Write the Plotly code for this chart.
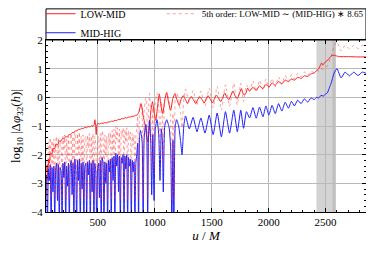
import math
import plotly.graph_objects as go

# ---------------- data ----------------
low_mid_u = [50, 56, 62, 68, 75, 84, 96, 108, 120, 134, 148, 162, 176, 190, 204, 218, 232, 246, 260, 274,
             288, 302, 316, 330, 344, 358, 372, 386, 400, 414, 428, 442, 456, 468, 474, 480, 486, 492, 500,
             515, 530, 545, 560, 575, 590, 605, 620, 635, 650, 665, 680, 695, 710, 725, 740, 755, 770, 785,
             800, 815, 830, 845, 860, 870, 880, 890, 900,
             910, 920, 930, 940, 950, 965, 980, 995, 1010, 1025, 1040, 1055, 1070, 1088, 1105, 1122, 1140, 1158,
             1177, 1196, 1215, 1233, 1250, 1270, 1288, 1305, 1323, 1342, 1361, 1378, 1396, 1415, 1434, 1451, 1468,
             1488, 1507, 1524, 1541, 1560, 1580, 1597, 1614, 1633, 1652, 1670, 1687, 1706, 1725, 1742, 1760, 1780,
             1798, 1815, 1833, 1862, 1891, 1920, 1950, 1976, 2002, 2030, 2058, 2087, 2116, 2145, 2174, 2200, 2226,
             2255, 2285, 2314, 2343, 2372, 2401, 2420, 2440, 2455, 2465, 2475, 2490, 2505, 2520, 2540, 2555, 2575,
             2590, 2620, 2700, 2780, 2855]
low_mid_v = [-2.6, -2.35, -2.9, -2.15, -2.3, -1.95, -1.98, -1.78, -1.8, -1.63, -1.65, -1.52, -1.53, -1.43, -1.45,
             -1.37, -1.38, -1.3, -1.3, -1.23, -1.23, -1.17, -1.17, -1.12, -1.12, -1.08, -1.09, -1.05, -1.06, -1.02,
             -1.03, -1.0, -1.0, -0.96, -0.78, -0.98, -1.3, -0.96, -0.91,
             -0.93, -0.9, -0.91, -0.88, -0.89, -0.86, -0.86, -0.83, -0.84, -0.8, -0.81, -0.77, -0.78, -0.74,
             -0.75, -0.71, -0.72, -0.69, -0.69, -0.66, -0.66, -0.63, -0.62, -0.52, -0.36, -0.22, -0.4, -0.7,
             -0.85, -1.1, -1.4, -1.55, -1.2, -0.5, -0.15, -0.55, -0.8, -0.3, 0.12, -0.3, -0.57, -0.1, 0.17, -0.2,
             -0.45, -0.05, 0.13, -0.1, -0.28, -0.05, 0.06, -0.08, -0.22, -0.05, 0.02, -0.1, -0.22, -0.07, 0.02,
             -0.08, -0.2, -0.05, 0.06, -0.07, -0.2, -0.05, 0.08, -0.04, -0.15, 0.0, 0.15, 0.0, -0.08, 0.08, 0.22,
             0.05, -0.04, 0.12, 0.3, 0.1, 0.12, 0.32, 0.22, 0.35, 0.24, 0.4, 0.3, 0.45, 0.36, 0.5, 0.42, 0.55, 0.47,
             0.6, 0.55, 0.64, 0.6, 0.7, 0.66, 0.75, 0.73, 0.82, 0.85, 0.93, 1.0, 1.12, 1.2, 1.12, 1.2, 1.26, 1.3,
             1.4, 1.46, 1.47, 1.45, 1.42, 1.42, 1.41, 1.41]

mid_hig_u = [50, 58, 66, 74, 82, 90, 98, 106, 114, 122, 130, 138, 146, 154, 162, 170, 178, 186, 194, 202,
             210, 218, 226, 234, 242, 250, 258, 266, 274, 282, 290, 298, 306, 314, 322, 330, 338, 346, 354, 362,
             370, 378, 386, 394, 402, 410, 418, 426, 434, 442, 450, 458, 466, 474, 482, 490, 498,
             506, 514, 522, 530, 538, 546, 554, 562, 570, 578, 586, 594, 602, 610, 618, 626, 634, 642, 650, 658,
             666, 674, 682, 690, 698, 706, 714, 722, 730, 738, 746, 754, 762, 770, 778, 786, 794, 802, 810, 818,
             826, 834, 842, 850, 858, 866, 874, 882, 890, 898, 906, 914, 922, 930, 938, 946, 955, 965, 973, 983,
             994, 1005, 1020, 1035, 1046, 1058, 1067, 1075, 1088, 1105, 1120, 1128, 1140, 1150, 1160, 1168, 1180,
             1192, 1210, 1226, 1240, 1255, 1270, 1303, 1337, 1371, 1405, 1441, 1478, 1513, 1548, 1585, 1621,
             1657, 1694, 1725, 1755, 1780, 1805, 1833, 1862, 1891, 1920, 1950, 1976, 2002, 2030, 2058, 2087,
             2116, 2145, 2174, 2200, 2226, 2255, 2285, 2314, 2343, 2372, 2401, 2420, 2440, 2460, 2480, 2500,
             2515, 2530, 2545, 2560, 2575, 2600, 2636, 2672, 2710, 2748, 2785, 2822, 2855]
mid_hig_v = [-2.7, -4.5, -2.5, -2.9, -2.35, -4.5, -2.45, -3.3, -2.4, -4.5, -2.5, -2.3, -3.6, -2.35, -4.5,
             -2.45, -2.6, -4.5, -2.3, -2.8, -2.25, -4.5, -2.4, -3.1, -2.3, -4.5, -2.4, -2.2, -3.4, -2.3, -4.5,
             -2.15, -2.5, -4.5, -2.2, -2.9, -2.15, -4.5, -2.3, -3.2, -2.25, -4.5, -2.4, -2.3, -4.5, -2.25, -2.7,
             -2.2, -4.5, -2.3, -3.3, -2.2, -4.5, -2.3, -2.6, -4.5, -2.5,
             -2.3, -3.5, -2.2, -4.5, -2.1, -2.3, -4.5, -2.25, -3.0, -2.3, -4.5, -2.2, -2.6, -2.15, -4.5, -2.1,
             -2.9, -2.05, -4.5, -1.95, -2.4, -2.0, -3.3, -2.05, -4.5, -2.1, -2.3, -2.0, -4.5, -2.05, -2.5, -2.0,
             -4.5, -2.1, -2.4, -2.15, -4.5, -2.2, -2.6, -2.25, -4.5, -2.3, -2.0, -1.6, -4.5, -1.4, -1.15, -1.3,
             -1.6, -4.5, -1.5, -1.1, -0.95, -1.3, -4.5, -1.2, -0.8, -1.6, -3.4, -1.3, -3.6, -1.1, -0.78, -1.3,
             -2.9, -1.1, -1.5, -3.3, -1.0, -0.78, -0.95, -1.1, -1.8, -4.5, -1.5, -4.5, -1.0, -0.78, -1.0, -1.5,
             -2.0, -1.0, -0.65, -1.1, -0.7, -1.2, -0.72, -1.25, -0.62, -1.3, -0.55, -1.38, -0.5, -1.25, -0.45,
             -1.2, -0.45, -1.08, -0.5, -0.72, -0.36, -0.73, -0.34, -0.68, -0.3, -0.62, -0.28, -0.57, -0.22,
             -0.48, -0.17, -0.38, -0.14, -0.3, -0.1, -0.22, -0.05, -0.17, -0.02, -0.08, 0.0, -0.02, 0.07, 0.04,
             0.12, 0.15, 0.3, 0.45, 0.65, 0.85, 1.0, 0.68, 0.88, 0.75, 0.88, 0.76, 0.88, 0.84]

# "5th order" curve: MID-HIG scaled by the factor written in the legend (log10 of value * 8.65)
scale_factor = 8.65
fifth_order_v = [v + math.log10(scale_factor) for v in mid_hig_v]

x_ticks = [500, 1000, 1500, 2000, 2500]
y_ticks = [-4, -3, -2, -1, 0, 1, 2]
shade_main = [2420, 2590]
shade_extra = [2560, 2590]

# ---------------- figure ----------------
# (the page adds an 8 px body margin, so the figure is 8 px smaller than the window)
SERIF = "Liberation Serif"
fig = go.Figure()

fig.add_trace(go.Scatter(x=low_mid_u, y=low_mid_v, mode="lines", name="LOW-MID",
                         line=dict(color="rgb(255,30,30)", width=1, shape="spline", smoothing=0.5),
                         legend="legend"))
fig.add_trace(go.Scatter(x=mid_hig_u, y=mid_hig_v, mode="lines", name="MID-HIG",
                         line=dict(color="rgb(30,30,255)", width=1, shape="spline", smoothing=0.5),
                         legend="legend"))
fig.add_trace(go.Scatter(x=mid_hig_u, y=fifth_order_v, mode="lines",
                         name="5th order: LOW-MID ∼ (MID-HIG) ∗ 8.65",
                         line=dict(color="rgba(255,40,40,0.45)", width=1, dash="dot",
                                   shape="spline", smoothing=0.5),
                         legend="legend2"))

fig.add_shape(type="rect", xref="x", yref="paper", x0=shade_main[0], x1=shade_main[1], y0=0, y1=1,
              fillcolor="rgba(120,120,120,0.33)", line_width=0, layer="below")
fig.add_shape(type="rect", xref="x", yref="paper", x0=shade_extra[0], x1=shade_extra[1], y0=0, y1=1,
              fillcolor="rgba(120,120,120,0.2)", line_width=0, layer="below")

# legend frame
fig.add_shape(type="rect", xref="paper", yref="paper", x0=0, x1=1, y0=1.0, y1=1.181,
              line=dict(color="black", width=1), fillcolor="rgba(0,0,0,0)", layer="above")

axis_common = dict(showline=True, linecolor="black", linewidth=1, mirror="ticks",
                   ticks="inside", ticklen=4, tickcolor="black", tickwidth=1,
                   showgrid=True, gridcolor="rgb(185,185,185)", gridwidth=1, zeroline=False,
                   tickfont=dict(family=SERIF, size=11, color="black"))

fig.update_xaxes(range=[45, 2855], tickvals=x_ticks,
                 minor=dict(dtick=100, tick0=0, ticks="inside", ticklen=2, tickcolor="black", showgrid=False),
                 title=dict(text="<i>u</i> / <i>M</i>", font=dict(family=SERIF, size=13, color="black"),
                            standoff=2),
                 **axis_common)
fig.update_yaxes(range=[-4, 2], tickvals=y_ticks,
                 minor=dict(dtick=0.2, tick0=0, ticks="inside", ticklen=2, tickcolor="black", showgrid=False),
                 title=dict(text="log<sub>10</sub> |Δ<i>φ</i><sub>32</sub>(<i>h</i>)|",
                            font=dict(family=SERIF, size=13, color="black"), standoff=11),
                 **axis_common)

legend_font = dict(family=SERIF, size=10, color="black")
fig.update_layout(
    width=366, height=245,
    margin=dict(l=38, r=8, t=32, b=41, autoexpand=False),
    paper_bgcolor="white", plot_bgcolor="white",
    showlegend=True,
    legend=dict(orientation="v", x=-0.017, y=1.237, xanchor="left", yanchor="top",
                bgcolor="rgba(0,0,0,0)", borderwidth=0, font=legend_font,
                tracegroupgap=0, itemwidth=30),
    legend2=dict(orientation="v", x=0.362, y=1.237, xanchor="left", yanchor="top",
                 bgcolor="rgba(0,0,0,0)", borderwidth=0,
                 font=dict(family=SERIF, size=9, color="black"),
                 tracegroupgap=0, itemwidth=30),
)

fig.write_html("out.html")
